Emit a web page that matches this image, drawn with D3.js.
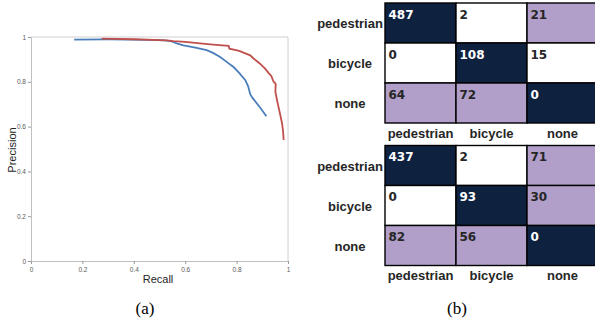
<!DOCTYPE html>
<html>
<head>
<meta charset="utf-8">
<script src="https://cdn.jsdelivr.net/npm/d3@7"></script>
<style>
  html, body { margin: 0; padding: 0; background: #fff; }
  svg { display: block; }
</style>
</head>
<body>
<svg id="fig" width="595" height="326"></svg>
<script>
// Precision-recall curves (recall, precision)
const blueRecall    = [0.168, 0.30, 0.45, 0.52, 0.548, 0.57, 0.593, 0.64, 0.684, 0.71, 0.736, 0.76, 0.788, 0.81, 0.834, 0.845, 0.853, 0.862, 0.873, 0.895, 0.916];
const bluePrecision = [0.988, 0.989, 0.987, 0.985, 0.980, 0.970, 0.963, 0.953, 0.941, 0.928, 0.911, 0.890, 0.866, 0.840, 0.807, 0.780, 0.745, 0.728, 0.712, 0.680, 0.646];
const redRecall     = [0.275, 0.40, 0.529, 0.554, 0.60, 0.658, 0.72, 0.769, 0.772, 0.81, 0.853, 0.866, 0.89, 0.911, 0.924, 0.935, 0.944, 0.95, 0.952, 0.951, 0.957, 0.963, 0.970, 0.977, 0.981, 0.983];
const redPrecision  = [0.993, 0.990, 0.985, 0.982, 0.978, 0.972, 0.965, 0.960, 0.948, 0.938, 0.918, 0.904, 0.882, 0.859, 0.840, 0.826, 0.800, 0.794, 0.790, 0.755, 0.720, 0.688, 0.652, 0.614, 0.578, 0.540];
const axisTicks = [0, 0.2, 0.4, 0.6, 0.8, 1];

// Confusion matrices (rows: true class, columns: predicted class)
const classes = ["pedestrian", "bicycle", "none"];
const matrixTop = [
  [487, 2, 21],
  [0, 108, 15],
  [64, 72, 0]
];
const matrixBottom = [
  [437, 2, 71],
  [0, 93, 30],
  [82, 56, 0]
];
const captions = ["(a)", "(b)"];

const svg = d3.select("#fig");

// ---------- PR curve panel ----------
const x = d3.scaleLinear().domain([0, 1]).range([31, 288]);
const y = d3.scaleLinear().domain([0, 1]).range([261, 37]);
const gridGray = "#bfbfbf";
const tickText = "#595959";

// frame (top and right)
svg.append("line").attr("x1", x(0)).attr("x2", x(1)).attr("y1", y(1)).attr("y2", y(1))
  .attr("stroke", "#d0d0d0").attr("stroke-width", 1);
svg.append("line").attr("x1", x(1)).attr("x2", x(1)).attr("y1", y(0)).attr("y2", y(1))
  .attr("stroke", "#d0d0d0").attr("stroke-width", 1);

const xAxis = svg.append("g").attr("transform", `translate(0,${y(0)})`)
  .call(d3.axisBottom(x).tickValues(axisTicks).tickSize(3).tickSizeOuter(0).tickFormat(d3.format("")));
const yAxis = svg.append("g").attr("transform", `translate(${x(0)},0)`)
  .call(d3.axisLeft(y).tickValues(axisTicks).tickSize(3).tickSizeOuter(0).tickFormat(d3.format("")));
[xAxis, yAxis].forEach(g => {
  g.select(".domain").attr("stroke", gridGray);
  g.selectAll(".tick line").attr("stroke", "#9a9a9a");
  g.selectAll(".tick text").attr("fill", tickText).attr("font-family", "Liberation Sans, Arial, sans-serif").attr("font-size", 6.5);
});
xAxis.selectAll(".tick text").attr("dy", "0.4em").attr("y", 8);
yAxis.selectAll(".tick text").attr("x", -5);

svg.append("text").attr("x", 158).attr("y", 283).attr("text-anchor", "middle")
  .attr("font-family", "Liberation Sans, Arial, sans-serif").attr("font-size", 11).attr("fill", "#262626")
  .text("Recall");
svg.append("text").attr("transform", "translate(16,150) rotate(-90)").attr("text-anchor", "middle")
  .attr("font-family", "Liberation Sans, Arial, sans-serif").attr("font-size", 11).attr("fill", "#262626")
  .text("Precision");

const line = d3.line().x(d => x(d[0])).y(d => y(d[1])).curve(d3.curveLinear);
svg.append("path").datum(blueRecall.map((r, i) => [r, bluePrecision[i]]))
  .attr("d", line).attr("fill", "none").attr("stroke", "#4a7ebb").attr("stroke-width", 1.8);
svg.append("path").datum(redRecall.map((r, i) => [r, redPrecision[i]]))
  .attr("d", line).attr("fill", "none").attr("stroke", "#c0504d").attr("stroke-width", 1.8);

// ---------- confusion matrices ----------
const navy = "#0e223f";
const lavender = "#b19fc9";
const labelFont = "Liberation Sans, Arial, sans-serif";
const numFont = "DejaVu Sans, Verdana, sans-serif";

function drawMatrix(data, top) {
  const cx = d3.scaleBand().domain(d3.range(3)).range([385, 598]);
  const cy = d3.scaleBand().domain(d3.range(3)).range([top, top + 120]);
  const g = svg.append("g");
  data.forEach((row, i) => {
    row.forEach((v, j) => {
      const fill = i === j ? navy : (v > 20 ? lavender : "#ffffff");
      g.append("rect").attr("x", cx(j)).attr("y", cy(i))
        .attr("width", cx.bandwidth()).attr("height", cy.bandwidth())
        .attr("fill", fill).attr("stroke", "#000").attr("stroke-width", 1.4);
      g.append("text").attr("x", cx(j) + 3.5).attr("y", cy(i) + 15.5)
        .attr("font-family", numFont).attr("font-weight", "bold").attr("font-size", 12)
        .attr("fill", i === j ? "#ffffff" : "#262626").text(v);
    });
    g.append("text").attr("x", 350).attr("y", cy(i) + cy.bandwidth() / 2 + 5)
      .attr("text-anchor", "middle").attr("font-family", labelFont).attr("font-weight", "bold")
      .attr("font-size", 13).attr("fill", "#262626").text(classes[i]);
  });
  classes.forEach((c, j) => {
    g.append("text").attr("x", cx(j) + cx.bandwidth() / 2).attr("y", top + 120 + 14.5)
      .attr("text-anchor", "middle").attr("font-family", labelFont).attr("font-weight", "bold")
      .attr("font-size", 13).attr("fill", "#262626").text(c);
  });
}
drawMatrix(matrixTop, 3);
drawMatrix(matrixBottom, 145.5);

// ---------- captions ----------
svg.selectAll("text.caption").data(captions).join("text").attr("class", "caption")
  .attr("x", (d, i) => i === 0 ? 145 : 457).attr("y", 314)
  .attr("text-anchor", "middle").attr("font-family", "Liberation Serif, Times New Roman, serif")
  .attr("font-size", 17).attr("fill", "#000").text(d => d);
</script>
</body>
</html>
